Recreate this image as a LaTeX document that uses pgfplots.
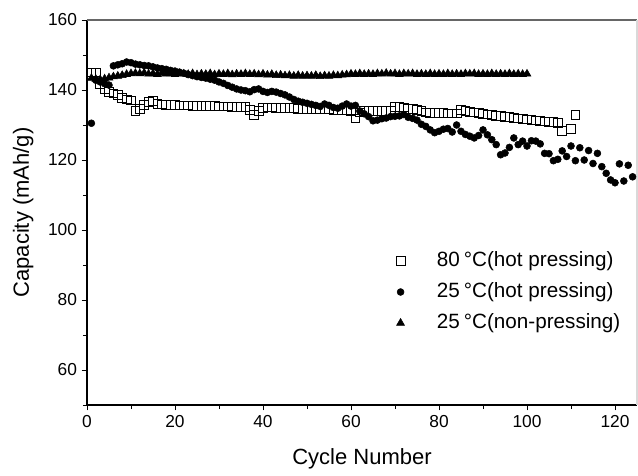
\documentclass[border=0pt]{standalone}
\usepackage{pgfplots}
\pgfplotsset{compat=1.18}
\usepackage{pgfplotstable}
\usepackage{fontspec}
\setmainfont{Liberation Sans}

\pgfplotsset{mylegimg/.style={legend image code/.code={\path[draw=none,fill=none] (0cm,-2pt) rectangle (1.7cm,2pt); \draw[mark repeat=2,mark phase=2,##1] plot coordinates {(0cm,0cm) (0.85cm,0cm) (1.7cm,0cm)};}}}

\pgfplotstableread{
c v
1 145.0
2 145.0
3 141.6
4 140.3
5 139.5
6 139.0
7 138.6
8 137.8
9 137.3
10 137.0
11 134.1
12 134.6
13 135.8
14 136.6
15 136.9
16 136.1
17 135.9
18 135.8
19 135.7
20 135.7
21 135.6
22 135.6
23 135.6
24 135.5
25 135.5
26 135.5
27 135.4
28 135.4
29 135.4
30 135.3
31 135.3
32 135.3
33 135.2
34 135.2
35 135.2
36 135.1
37 134.4
38 132.9
39 134.0
40 134.9
41 135.0
42 135.0
43 134.9
44 134.9
45 134.9
46 134.8
47 134.8
48 134.7
49 134.7
50 134.7
51 134.6
52 134.6
53 134.5
54 134.5
55 134.5
56 134.4
57 134.4
58 134.3
59 134.3
60 134.1
61 131.9
62 133.6
63 134.1
64 134.1
65 134.0
66 134.0
67 134.0
68 134.0
69 134.1
70 135.1
71 135.2
72 135.0
73 134.7
74 134.6
75 134.4
76 134.0
77 133.6
78 133.5
79 133.5
80 133.4
81 133.4
82 133.3
83 133.3
84 133.3
85 134.2
86 134.0
87 133.8
88 133.6
89 133.4
90 133.2
91 133.0
92 132.9
93 132.7
94 132.5
95 132.4
96 132.2
97 132.1
98 131.9
99 131.8
100 131.6
101 131.5
102 131.3
103 131.2
104 131.0
105 130.9
106 130.8
107 130.6
108 128.3
110 128.8
111 132.8
}\sqdata

\pgfplotstableread{
c v
1 130.5
2 142.8
3 142.3
4 141.8
5 141.4
6 146.9
7 147.2
8 147.5
9 148.0
10 147.8
11 147.4
12 147.2
13 147.0
14 146.9
15 146.6
16 146.3
17 146.1
18 145.9
19 145.6
20 145.4
21 145.1
22 144.8
23 144.4
24 144.1
25 143.8
26 143.6
27 143.4
28 143.1
29 142.8
30 142.3
31 141.9
32 141.3
33 140.8
34 140.3
35 140.0
36 139.8
37 139.5
38 140.1
39 140.3
40 139.6
41 139.3
42 139.6
43 139.4
44 139.0
45 138.6
46 138.0
47 137.3
48 136.8
49 136.5
50 136.2
51 135.9
52 135.6
53 135.3
54 136.0
55 135.6
56 135.0
57 134.8
58 135.4
59 136.0
60 135.4
61 135.6
62 134.0
63 133.2
64 132.4
65 131.2
66 131.4
67 131.8
68 132.0
69 132.4
70 132.5
71 132.6
72 133.0
73 132.2
74 131.9
75 131.4
76 130.2
77 129.6
78 128.6
79 127.8
80 128.2
81 128.8
82 129.0
83 128.0
84 130.0
85 128.2
86 127.3
87 126.8
88 126.3
89 127.0
90 128.6
91 127.2
92 125.8
93 124.4
94 121.5
95 122.0
96 123.6
97 126.3
98 124.4
99 125.4
100 124.0
101 125.5
102 125.4
103 124.6
104 121.9
105 121.8
106 119.8
107 120.2
108 122.6
109 121.0
110 124.0
111 119.8
112 123.5
113 120.0
114 122.7
115 119.0
116 121.9
117 118.1
118 116.2
119 114.3
120 113.5
121 118.9
122 114.0
123 118.5
124 115.2
}\cidata

\pgfplotstableread{
c v
1 143.4
2 143.1
3 143.0
4 143.2
5 143.5
6 143.8
7 144.0
8 144.2
9 144.5
10 144.7
11 144.8
12 144.7
13 144.9
14 144.6
15 144.7
16 144.5
17 144.8
18 144.6
19 144.7
20 144.5
21 144.7
22 144.6
23 144.5
24 144.7
25 144.4
26 144.6
27 144.5
28 144.7
29 144.4
30 144.6
31 144.5
32 144.7
33 144.4
34 144.6
35 144.5
36 144.7
37 144.5
38 144.6
39 144.4
40 144.6
41 144.3
42 144.5
43 144.2
44 144.3
45 144.1
46 144.2
47 144.0
48 144.2
49 144.0
50 144.1
51 144.0
52 144.2
53 143.9
54 144.1
55 144.0
56 144.2
57 144.1
58 144.3
59 144.4
60 144.6
61 144.5
62 144.7
63 144.5
64 144.6
65 144.5
66 144.7
67 144.6
68 144.8
69 144.6
70 144.7
71 144.5
72 144.7
73 144.6
74 144.7
75 144.5
76 144.6
77 144.5
78 144.7
79 144.5
80 144.6
81 144.5
82 144.7
83 144.5
84 144.6
85 144.5
86 144.7
87 144.6
88 144.7
89 144.5
90 144.6
91 144.5
92 144.7
93 144.5
94 144.6
95 144.5
96 144.7
97 144.5
98 144.6
99 144.5
100 144.6
}\trdata

\begin{document}
\begin{tikzpicture}
\useasboundingbox (-65.25pt,-52.5pt) rectangle (413.25pt,303.75pt);
\begin{axis}[
  scale only axis, width=412.5pt, height=288.75pt,
  xmin=0, xmax=125, ymin=50, ymax=160,
  xtick={0,20,...,120}, minor xtick={10,30,...,110},
  ytick={60,80,...,160}, minor ytick={50,70,...,150},
  axis x line*=bottom, axis y line*=left,
  axis line style={line width=0.8pt, -},
  tick align=outside, major tick length=4pt, minor tick length=3pt,
  tick style={black, line width=0.7pt},
  ticklabel style={font=\fontsize{13}{15}\selectfont},
  /pgf/number format/assume math mode=true,
  xlabel={Cycle Number}, ylabel={Capacity (mAh/g)},
  label style={font=\fontsize{16.5}{19}\selectfont},
  xlabel style={at={(axis description cs:0.5,-0.14)}, anchor=center},
  ylabel style={at={(axis description cs:-0.116,0.5)}, anchor=center},
  legend style={at={(0.511,0.405)}, anchor=north west, draw=none, fill=none, inner sep=0pt,
    font=\fontsize{15.5}{18}\selectfont, row sep=5.75pt,
    nodes={inner xsep=3pt, inner ysep=0pt, text height=13pt, text depth=4.5pt}},
  legend cell align=left,
  clip=false,
]
\addplot[only marks, mylegimg, mark=square, mark size=3.3pt, mark options={draw=black, fill=white, line width=0.6pt}] table[x=c,y=v] {\sqdata};
\addlegendentry{80\hspace{0.2em}°C(hot pressing)}
\addplot[only marks, mylegimg, mark=*, mark size=2.6pt, mark options={draw=black, fill=black}] table[x=c,y=v] {\cidata};
\addlegendentry{25\hspace{0.2em}°C(hot pressing)}
\addplot[only marks, mylegimg, mark=triangle*, mark size=3.4pt, mark options={draw=black, fill=black}] table[x=c,y=v] {\trdata};
\addlegendentry{25\hspace{0.2em}°C(non-pressing)}
\draw[black!60, line width=0.8pt] (rel axis cs:0,1) -- (rel axis cs:1,1);
\draw[black!15, line width=0.8pt] (rel axis cs:1,1) -- (rel axis cs:1,0);
\end{axis}
\end{tikzpicture}
\end{document}
